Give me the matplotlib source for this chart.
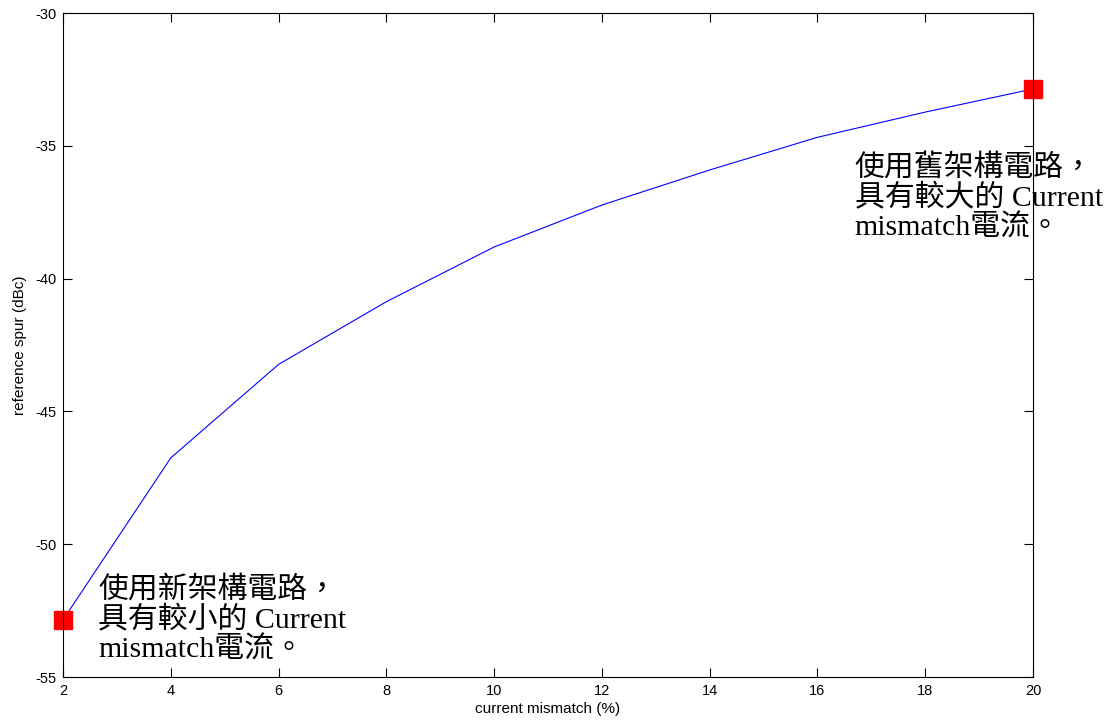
import matplotlib
matplotlib.use("Agg")
import matplotlib.pyplot as plt

plt.rcParams["axes.unicode_minus"] = False

# Reference spur versus charge-pump current mismatch
mismatch_pct = [2, 4, 6, 8, 10, 12, 14, 16, 18, 20]
spur_dbc = [-52.85, -46.75, -43.23, -40.87, -38.81, -37.23, -35.91, -34.68, -33.73, -32.86]

x_ticks = [2, 4, 6, 8, 10, 12, 14, 16, 18, 20]
y_ticks = [-55, -50, -45, -40, -35, -30]

note_new = "使用新架構電路，\n具有較小的 Current\nmismatch電流。"
note_old = "使用舊架構電路，\n具有較大的 Current\nmismatch電流。"

fig = plt.figure(figsize=(11.19, 7.24), dpi=100)
ax = fig.add_axes([0.0563, 0.0649, 0.9231 - 0.0563, 0.982 - 0.0649])

ax.plot(mismatch_pct, spur_dbc, color="#0000ff", lw=0.8)
ax.plot([mismatch_pct[0], mismatch_pct[-1]], [spur_dbc[0], spur_dbc[-1]],
        ls="none", marker="s", ms=13, mfc="#ff0000", mec="#ff0000", clip_on=False)

ax.set_xlim(2, 20)
ax.set_ylim(-55, -30)
ax.set_xticks(x_ticks)
ax.set_yticks(y_ticks)
ax.tick_params(direction="in", top=True, right=True, labelsize=10.5,
               length=6.5, width=0.8)
ax.tick_params(axis="y", pad=4.5)
ax.tick_params(axis="x", pad=5)
for lbl in ax.get_xticklabels() + ax.get_yticklabels():
    lbl.set_family("Liberation Sans")
for s in ax.spines.values():
    s.set_linewidth(0.8)

ax.set_xlabel("current mismatch (%)", fontsize=11, labelpad=3, family="Liberation Sans")
ax.set_ylabel("reference spur (dBc)", fontsize=11, labelpad=6, family="Liberation Sans")

cjk = ["Liberation Serif", "Noto Sans CJK TC"]
ax.text(2.65, -51.2, note_new, family=cjk, fontsize=21.5, va="top", ha="left",
        linespacing=1.1)
ax.text(16.69, -35.3, note_old, family=cjk, fontsize=21.5, va="top", ha="left",
        linespacing=1.1, clip_on=False)

fig.savefig("out.png", dpi=100)
